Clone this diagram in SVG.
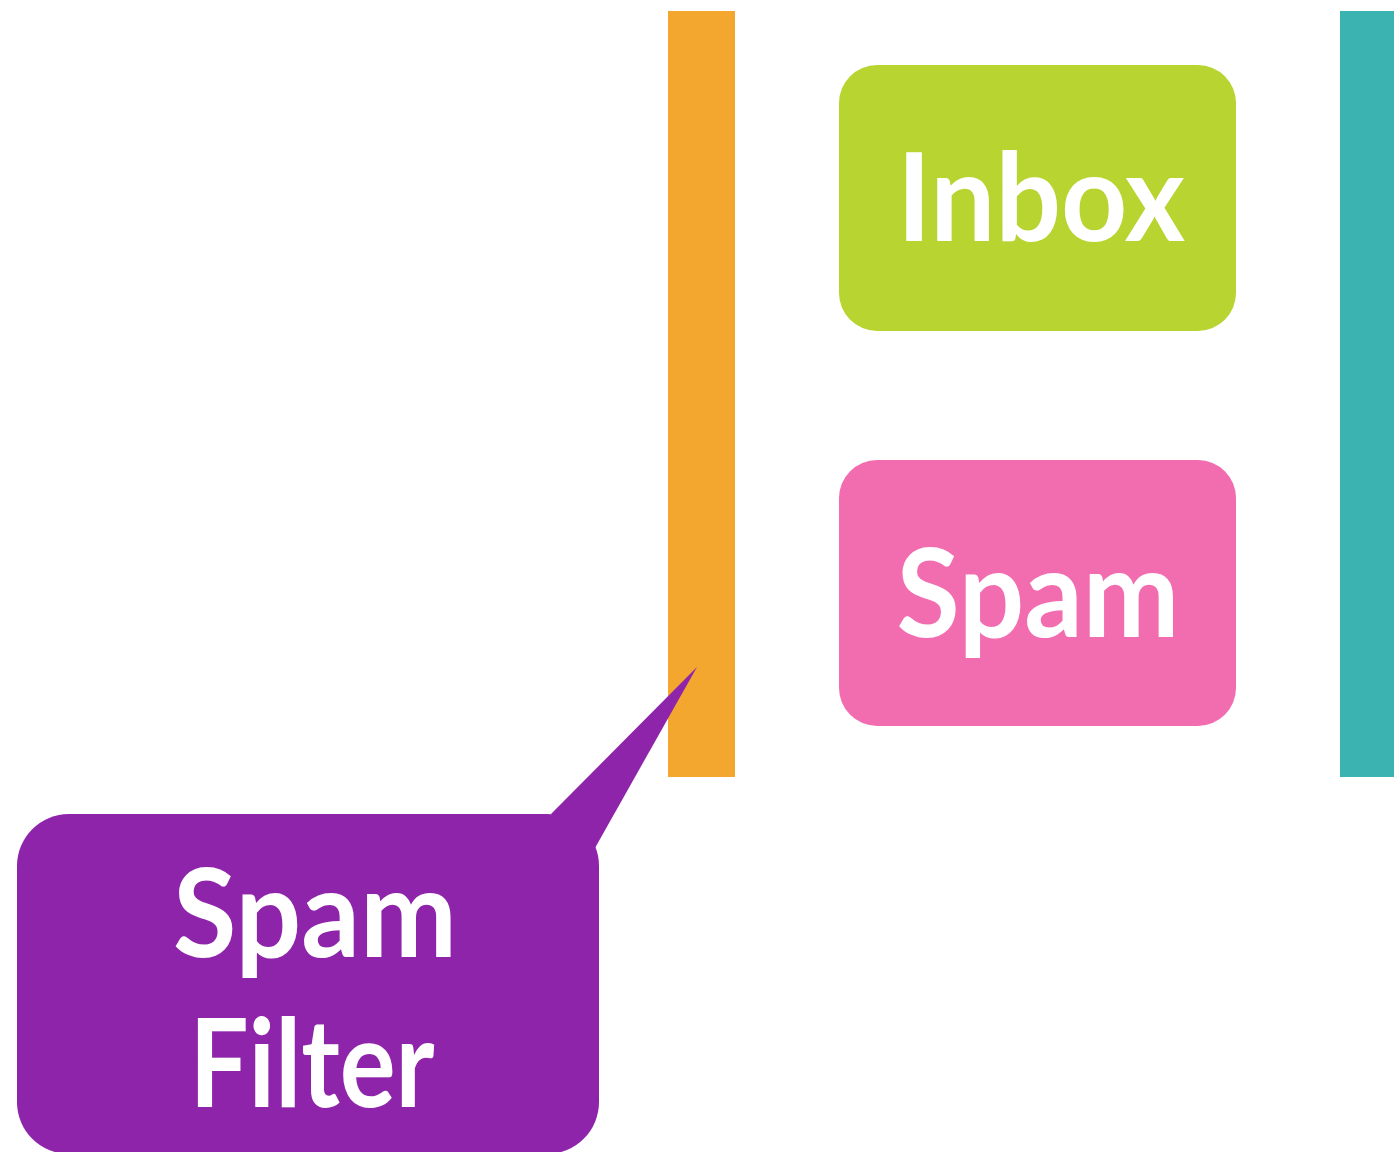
<svg xmlns="http://www.w3.org/2000/svg" width="1394" height="1152" viewBox="0 0 1394 1152">
  <style>
    .label { font-family: Lato, "Open Sans", "Liberation Sans", sans-serif; font-size: 123px; font-weight: 700; fill: #ffffff; text-anchor: middle; }
  </style>
  <rect width="1394" height="1152" fill="#ffffff"/>

  <!-- vertical separators -->
  <g id="bars">
    <rect id="bar-filter" x="668" y="11" width="67" height="766" fill="#F3A72F"/>
    <rect id="bar-right" x="1340" y="11" width="54" height="766" fill="#3AB3B1"/>
  </g>

  <!-- destination boxes -->
  <g id="inbox">
    <rect x="839" y="65" width="397" height="266" rx="38" fill="#B8D430"/>
    <text class="label" x="1041" y="241" textLength="288" lengthAdjust="spacingAndGlyphs">Inbox</text>
  </g>
  <g id="spam">
    <rect x="839" y="460" width="397" height="266" rx="38" fill="#F26DB0"/>
    <text class="label" x="1038" y="637" textLength="283" lengthAdjust="spacingAndGlyphs">Spam</text>
  </g>

  <!-- callout pointing at the filter bar -->
  <g id="spam-filter">
    <path d="M551,814 L697,667 L595,848 Z" fill="#8E24AA"/>
    <rect x="17" y="814" width="582" height="340" rx="52" fill="#8E24AA"/>
    <text class="label" x="315" y="957" textLength="284" lengthAdjust="spacingAndGlyphs">Spam</text>
    <text class="label" x="312" y="1107" textLength="245" lengthAdjust="spacingAndGlyphs">Filter</text>
  </g>
</svg>
